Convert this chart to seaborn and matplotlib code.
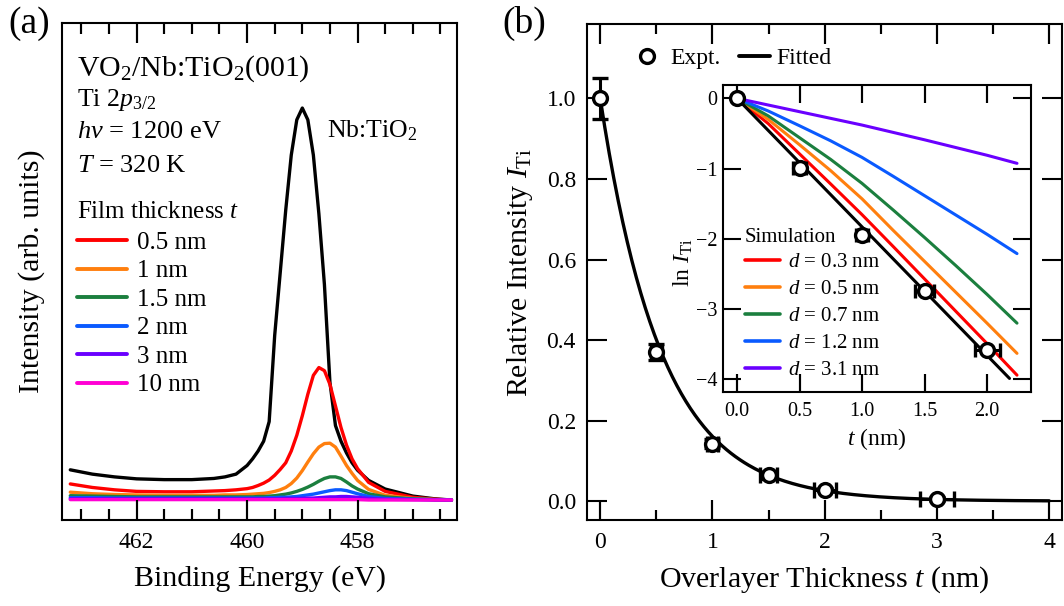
import numpy as np
import pandas as pd
import matplotlib
matplotlib.use("Agg")
import matplotlib.pyplot as plt
import seaborn as sns
from matplotlib.ticker import MultipleLocator
from matplotlib.lines import Line2D

# ---------------- Ti 2p3/2 spectra (panel a) ----------------
energy = [463.2, 462.8, 462.4, 462.0, 461.5, 461.0, 460.6, 460.4, 460.2, 460.0,
          459.9, 459.8, 459.7, 459.6, 459.5, 459.4, 459.3, 459.2, 459.1, 459.0,
          458.9, 458.8, 458.7, 458.6, 458.5, 458.4, 458.3, 458.2, 458.1, 458.0,
          457.8, 457.5, 457.0, 456.6, 456.3]

spec_substrate = [0.077, 0.066, 0.059, 0.054, 0.052, 0.052, 0.055, 0.059, 0.066, 0.088,
                  0.105, 0.125, 0.150, 0.200, 0.420, 0.580, 0.740, 0.880, 0.970, 1.000,
                  0.970, 0.880, 0.730, 0.550, 0.300, 0.190, 0.150, 0.120, 0.095, 0.076,
                  0.050, 0.028, 0.010, 0.003, 0.000]
spec_05nm = [0.041, 0.032, 0.026, 0.022, 0.021, 0.021, 0.023, 0.024, 0.026, 0.029,
             0.032, 0.037, 0.043, 0.051, 0.063, 0.078, 0.095, 0.125, 0.165, 0.215,
             0.270, 0.318, 0.338, 0.330, 0.295, 0.240, 0.185, 0.140, 0.105, 0.080,
             0.045, 0.022, 0.007, 0.002, 0.000]
spec_1nm = [0.020, 0.016, 0.014, 0.013, 0.012, 0.012, 0.012, 0.013, 0.013, 0.014,
            0.015, 0.016, 0.017, 0.019, 0.022, 0.026, 0.032, 0.042, 0.056, 0.075,
            0.097, 0.118, 0.135, 0.144, 0.145, 0.135, 0.112, 0.088, 0.068, 0.050,
            0.027, 0.012, 0.004, 0.001, 0.000]
spec_15nm = [0.011, 0.010, 0.009, 0.008, 0.008, 0.008, 0.008, 0.008, 0.008, 0.008,
             0.008, 0.009, 0.009, 0.010, 0.011, 0.013, 0.015, 0.018, 0.022, 0.027,
             0.033, 0.040, 0.048, 0.055, 0.059, 0.059, 0.055, 0.046, 0.036, 0.028,
             0.016, 0.008, 0.003, 0.001, 0.000]
spec_2nm = [0.006, 0.006, 0.005, 0.005, 0.005, 0.005, 0.005, 0.005, 0.005, 0.005,
            0.005, 0.005, 0.005, 0.006, 0.006, 0.007, 0.007, 0.008, 0.009, 0.011,
            0.013, 0.015, 0.018, 0.021, 0.024, 0.026, 0.026, 0.024, 0.020, 0.016,
            0.009, 0.004, 0.002, 0.001, 0.000]
spec_3nm = [0.003, 0.003, 0.003, 0.003, 0.003, 0.003, 0.003, 0.003, 0.003, 0.003,
            0.003, 0.003, 0.003, 0.003, 0.003, 0.003, 0.004, 0.004, 0.004, 0.004,
            0.005, 0.005, 0.006, 0.007, 0.008, 0.008, 0.009, 0.009, 0.008, 0.007,
            0.004, 0.002, 0.001, 0.000, 0.000]
spec_10nm = [0.001] * 30 + [0.000] * 5

film_labels = ["0.5 nm", "1 nm", "1.5 nm", "2 nm", "3 nm", "10 nm"]
film_colors = ["#ff0000", "#ff7f0e", "#1b7f3e", "#0a5aff", "#6a00ff", "#ff00d4"]
film_spectra = [spec_05nm, spec_1nm, spec_15nm, spec_2nm, spec_3nm, spec_10nm]

# ---------------- Relative Ti intensity (panel b) ----------------
t_expt = [0.0, 0.5, 1.0, 1.5, 2.0, 3.0]
I_expt = [1.0, 0.37, 0.143, 0.064, 0.028, 0.005]
I_err = [0.05, 0.02, 0.012, 0.008, 0.004, 0.004]
t_err = [0.0, 0.05, 0.05, 0.075, 0.10, 0.15]

# simulated ln I_Ti curves for different interdiffusion lengths d
t_sim = [0.0, 0.25, 0.5, 0.75, 1.0, 1.25, 1.5, 1.75, 2.0, 2.24]
sim_d03 = [0.0, -0.36, -0.79, -1.22, -1.655, -2.11, -2.57, -3.03, -3.49, -3.94]
sim_d05 = [0.0, -0.30, -0.66, -1.03, -1.43, -1.88, -2.32, -2.76, -3.20, -3.63]
sim_d07 = [0.0, -0.25, -0.56, -0.87, -1.21, -1.59, -1.98, -2.38, -2.79, -3.20]
sim_d12 = [0.0, -0.18, -0.39, -0.605, -0.84, -1.11, -1.385, -1.66, -1.935, -2.21]
sim_d31 = [0.0, -0.095, -0.19, -0.285, -0.38, -0.485, -0.59, -0.70, -0.81, -0.925]
sim_labels = ["0.3", "0.5", "0.7", "1.2", "3.1"]
sim_curves = [sim_d03, sim_d05, sim_d07, sim_d12, sim_d31]
sim_colors = ["#ff0000", "#ff7f0e", "#1b7f3e", "#0a5aff", "#6a00ff"]

# ---------------- style ----------------
sns.set_theme(style="ticks")
plt.rcParams.update({
    "font.family": ["Liberation Serif", "DejaVu Serif"],
    "mathtext.fontset": "custom",
    "mathtext.rm": "Liberation Serif",
    "mathtext.it": "Liberation Serif:italic",
    "mathtext.bf": "Liberation Serif:bold",
    "axes.linewidth": 1.5,
    "axes.edgecolor": "black",
    "text.color": "black",
    "axes.labelcolor": "black",
    "xtick.color": "black",
    "ytick.color": "black",
    "xtick.direction": "in",
    "ytick.direction": "in",
    "xtick.top": True,
    "xtick.bottom": True,
    "ytick.left": True,
    "ytick.right": True,
    "xtick.major.size": 14.4,
    "ytick.major.size": 14.4,
    "xtick.minor.size": 7.2,
    "ytick.minor.size": 7.2,
    "xtick.major.width": 1.5,
    "ytick.major.width": 1.5,
    "xtick.minor.width": 1.5,
    "ytick.minor.width": 1.5,
})

W, H = 1064, 606
fig = plt.figure(figsize=(W / 100, H / 100), dpi=100)


def frame(left, top, right, bottom):
    return [left / W, 1 - bottom / H, (right - left) / W, (bottom - top) / H]


def inward_xticks(ax, height_px, major_px, minor_px):
    """Draw inward tick marks on the top and bottom edges at the locator positions."""
    lo, hi = sorted(ax.get_xlim())
    trans = ax.get_xaxis_transform()
    for locs, length in ((ax.xaxis.get_majorticklocs(), major_px),
                         (ax.xaxis.get_minorticklocs(), minor_px)):
        locs = [v for v in locs if lo <= v <= hi]
        if not locs or length <= 0:
            continue
        frac = length / height_px
        ax.vlines(locs, 0, frac, transform=trans, colors="black", lw=1.5,
                  clip_on=False, zorder=6)
        ax.vlines(locs, 1 - frac, 1, transform=trans, colors="black", lw=1.5,
                  clip_on=False, zorder=6)


LW = 2.4

# ================= panel (a) =================
ax_a = fig.add_axes(frame(62, 23, 457, 520))
sns.lineplot(x=energy, y=spec_substrate, ax=ax_a, color="black", lw=LW,
             sort=False, estimator=None)
for vals, col in zip(film_spectra, film_colors):
    sns.lineplot(x=energy, y=vals, ax=ax_a, color=col, lw=LW,
                 sort=False, estimator=None)

ax_a.set_xlim(463.35, 456.2)
ax_a.set_ylim(-0.051, 1.217)
ax_a.xaxis.set_major_locator(MultipleLocator(2))
ax_a.xaxis.set_minor_locator(MultipleLocator(0.5))
ax_a.set_yticks([])
ax_a.set_xlabel("Binding Energy (eV)", fontsize=21.5, labelpad=8)
ax_a.set_ylabel("Intensity (arb. units)", fontsize=21.5, labelpad=12)

ax_a.text(0.038, 0.895, r"VO$_2$/Nb:TiO$_2$(001)", transform=ax_a.transAxes,
          fontsize=21.5, va="baseline")
ax_a.text(0.038, 0.833, r"Ti 2$\mathit{p}_{\mathrm{3/2}}$", transform=ax_a.transAxes,
          fontsize=18.5, va="baseline")
ax_a.text(0.038, 0.769, r"$\mathit{h\nu}$ = 1200 eV", transform=ax_a.transAxes,
          fontsize=19, va="baseline")
ax_a.text(0.038, 0.700, r"$\mathit{T}$ = 320 K", transform=ax_a.transAxes,
          fontsize=19, va="baseline")
ax_a.text(0.671, 0.769, r"Nb:TiO$_2$", transform=ax_a.transAxes,
          fontsize=18.5, va="baseline")

film_handles = [Line2D([], [], color=c, lw=LW + 0.4) for c in film_colors]
leg_a = ax_a.legend(film_handles, film_labels, title=r"Film thickness $\mathit{t}$",
                    loc="upper left", bbox_to_anchor=(0.038, 0.642),
                    frameon=False, fontsize=18, title_fontsize=18,
                    handlelength=2.0, handletextpad=0.4, labelspacing=0.24,
                    borderpad=0, borderaxespad=0)
leg_a._legend_box.align = "left"
leg_a._legend_box.sep = 6

# ================= panel (b) =================
ax_b = fig.add_axes(frame(587, 24, 1062, 520))
coef = np.sum(np.array(t_expt[:5]) * np.log(I_expt[:5])) / np.sum(np.array(t_expt[:5]) ** 2)
t_fit = np.linspace(0, 4, 300)
fit_df = pd.DataFrame({"t": t_fit, "I": np.exp(coef * t_fit)})
sns.lineplot(data=fit_df, x="t", y="I", ax=ax_b, color="black", lw=LW,
             sort=False, estimator=None)
ax_b.errorbar(t_expt, I_expt, yerr=I_err, xerr=t_err, fmt="o", ms=10,
              mfc="white", mec="black", mew=2.4, ecolor="black", elinewidth=2.2,
              capsize=5.5, capthick=2.2, zorder=7)

ax_b.set_xlim(-0.118, 4.114)
ax_b.set_ylim(-0.047, 1.185)
ax_b.xaxis.set_major_locator(MultipleLocator(1))
ax_b.xaxis.set_minor_locator(MultipleLocator(0.5))
ax_b.yaxis.set_major_locator(MultipleLocator(0.2))
ax_b.yaxis.set_minor_locator(plt.NullLocator())
ax_b.set_xlabel(r"Overlayer Thickness $\mathit{t}$ (nm)", fontsize=21.5, labelpad=8)
ax_b.set_ylabel(r"Relative Intensity $\mathit{I}_{\mathrm{Ti}}$", fontsize=21.5, labelpad=8)

b_handles = [Line2D([], [], ls="none", marker="o", ms=10, mfc="white", mec="black", mew=2.4),
             Line2D([], [], color="black", lw=LW + 0.4)]
ax_b.legend(b_handles, ["Expt.", "Fitted"], loc="upper left",
            bbox_to_anchor=(0.095, 0.952), ncol=2, frameon=False, fontsize=17,
            handlelength=1.3, handletextpad=0.3, columnspacing=0.8,
            borderpad=0, borderaxespad=0)

# ---------------- inset: ln I_Ti ----------------
ax_in = fig.add_axes(frame(723, 85, 1031, 392))
ax_in.set_facecolor("white")
for vals, col in zip(sim_curves, sim_colors):
    sns.lineplot(x=t_sim, y=vals, ax=ax_in, color=col, lw=2.2,
                 sort=False, estimator=None)
t_line = np.linspace(0, 2.18, 50)
sns.lineplot(x=t_line, y=coef * t_line, ax=ax_in, color="black", lw=2.2,
             sort=False, estimator=None)
ax_in.errorbar(t_expt[:5], np.log(I_expt[:5]), xerr=t_err[:5], fmt="o", ms=10,
               mfc="white", mec="black", mew=2.4, ecolor="black", elinewidth=2.2,
               capsize=5, capthick=2.2, zorder=7)
ax_in.set_xlim(-0.112, 2.352)
ax_in.set_ylim(-4.18, 0.19)
ax_in.xaxis.set_major_locator(MultipleLocator(0.5))
ax_in.yaxis.set_major_locator(MultipleLocator(1))
ax_in.xaxis.set_minor_locator(plt.NullLocator())
ax_in.yaxis.set_minor_locator(plt.NullLocator())
ax_in.set_xlabel(r"$\mathit{t}$ (nm)", fontsize=17, labelpad=4)
ax_in.set_ylabel(r"ln $\mathit{I}_{\mathrm{Ti}}$", fontsize=17)
ax_in.yaxis.set_label_coords(-0.09, 0.42)

sim_handles = [Line2D([], [], color=c, lw=2.6) for c in sim_colors]
sim_texts = [r"$\mathit{d}$ = " + s + " nm" for s in sim_labels]
leg_in = ax_in.legend(sim_handles, sim_texts, title="Simulation", loc="upper left",
                      bbox_to_anchor=(0.07, 0.535), frameon=False, fontsize=15,
                      title_fontsize=15, handlelength=1.7, handletextpad=0.4,
                      labelspacing=0.36, borderpad=0, borderaxespad=0)
leg_in._legend_box.align = "left"
leg_in._legend_box.sep = 4

# tick styling
ax_a.tick_params(axis="x", which="both", direction="in", top=True, bottom=True,
                 labelsize=17, pad=9)
ax_a.tick_params(axis="x", which="major", length=14.4, width=1.5)
ax_a.tick_params(axis="x", which="minor", length=8, width=1.5)
ax_a.tick_params(axis="y", which="both", left=False, right=False)

ax_b.tick_params(which="both", direction="in", top=True, bottom=True,
                 left=True, right=True, labelsize=17)
ax_b.tick_params(which="major", length=14.4, width=1.5)
ax_b.tick_params(which="minor", length=7.2, width=1.5)
ax_b.tick_params(axis="x", pad=9)
ax_b.tick_params(axis="y", pad=8)

ax_in.tick_params(which="major", direction="in", top=True, bottom=True,
                  left=True, right=True, length=13, width=1.5, labelsize=14.5)
ax_in.tick_params(axis="x", pad=7)
ax_in.tick_params(axis="y", pad=4)

# explicit inward tick marks along the horizontal edges
inward_xticks(ax_a, 497, 20, 11)
inward_xticks(ax_b, 496, 20, 10)
inward_xticks(ax_in, 307, 18, 0)

# panel tags
fig.text(8 / W, 1 - 33 / H, "(a)", fontsize=27, va="baseline")
fig.text(502 / W, 1 - 33 / H, "(b)", fontsize=27, va="baseline")

fig.savefig("out.png", dpi=100)
